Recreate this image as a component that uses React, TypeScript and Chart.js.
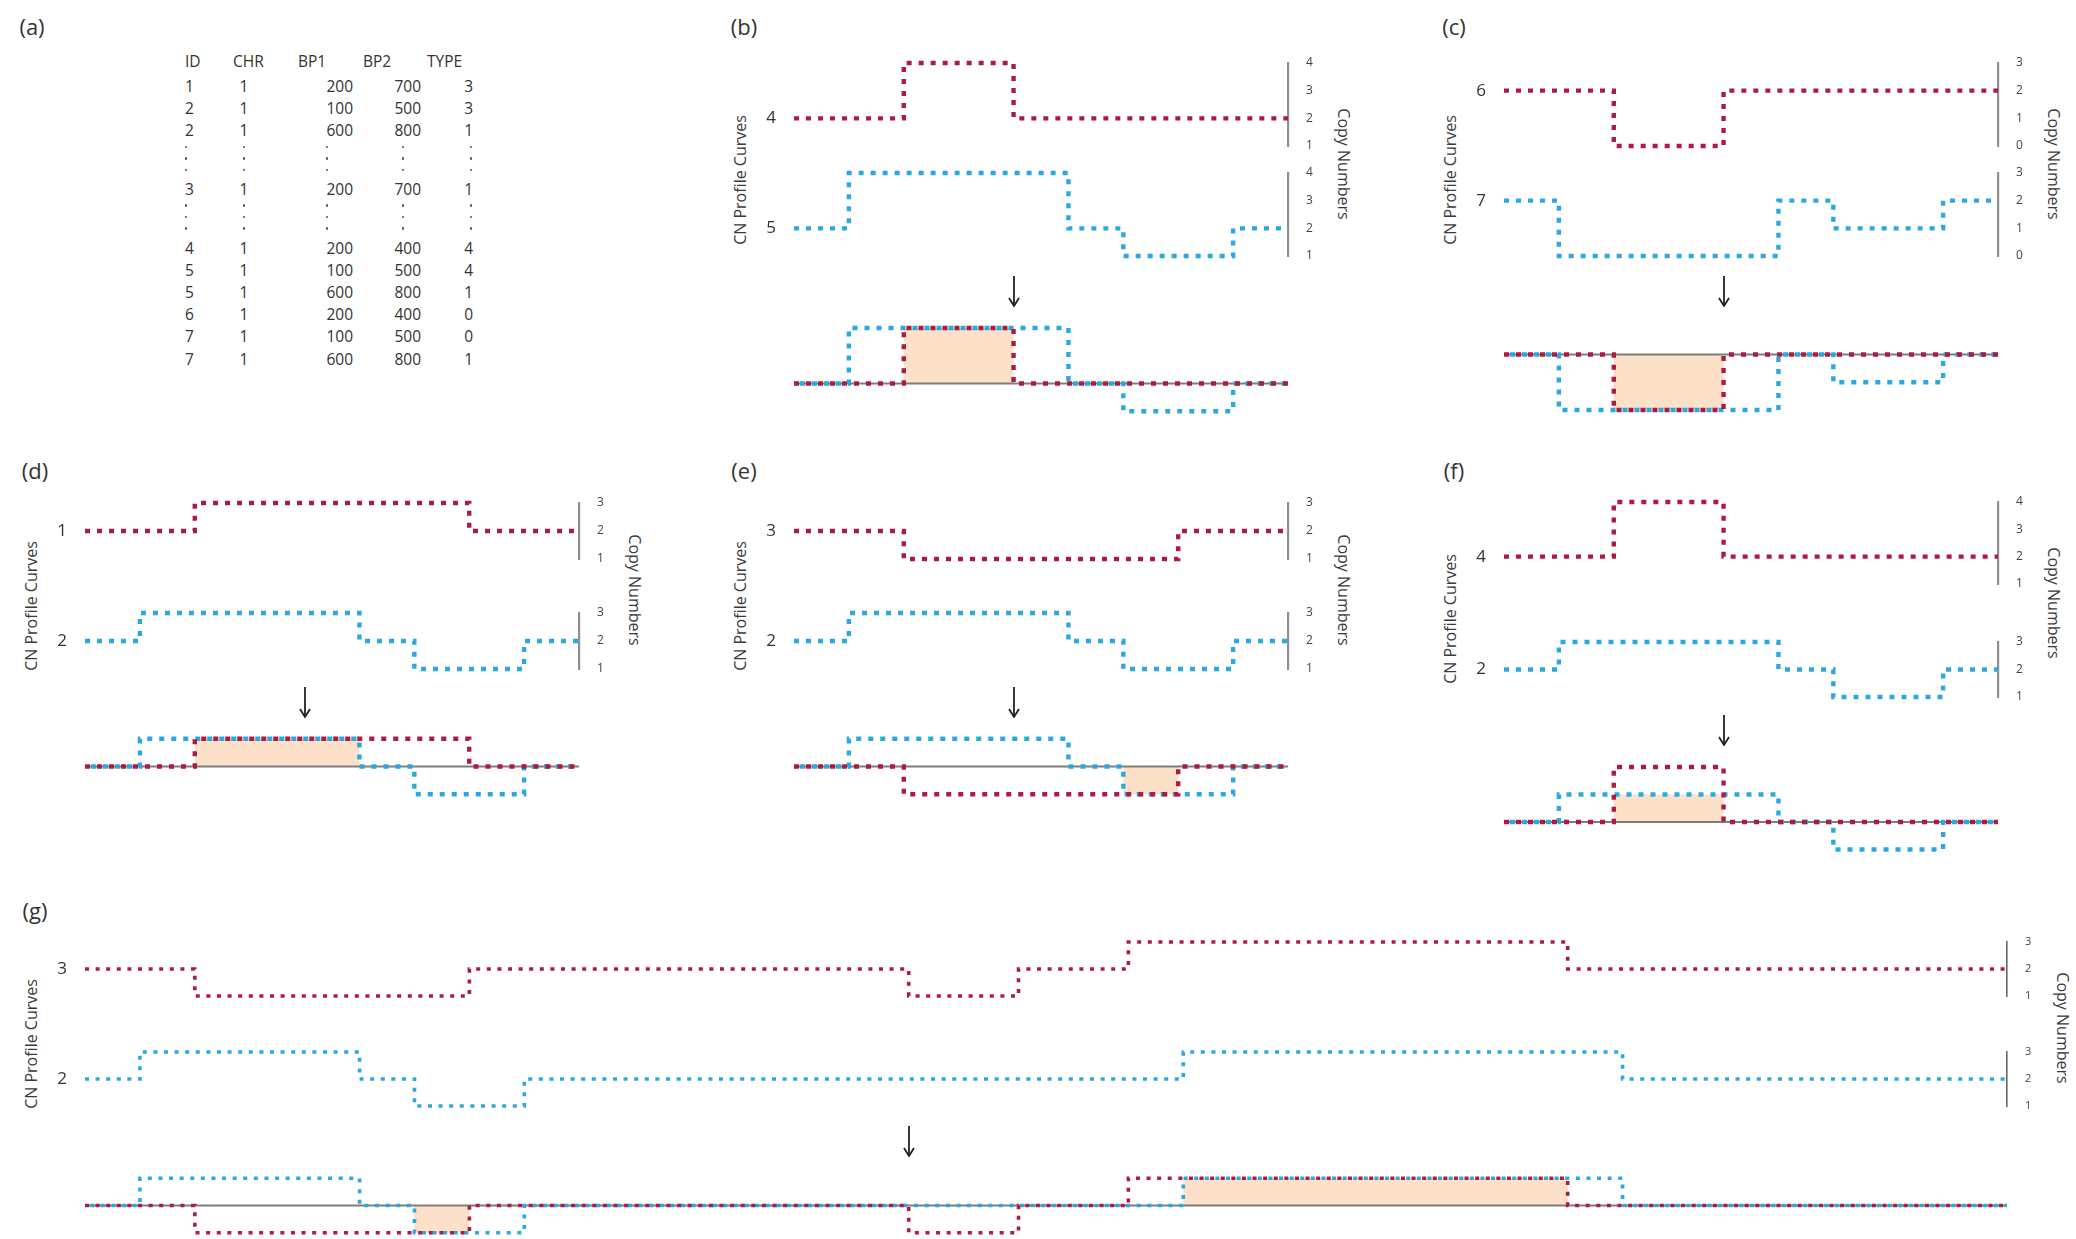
import React, { useEffect, useRef } from 'react';
import { Chart, registerables } from 'chart.js';

Chart.register(...registerables);

const FONT = '"Open Sans", "Noto Sans", "DejaVu Sans", sans-serif';
const RED = '#ad1a42';
const BLUE = '#2ca8e0';
const FILL = '#fce0c8';
const AXIS_GRAY = '#8f8f8f';
const TEXT = '#333333';

const NORMAL_CN = 2;
const GENOME_LEN = 900;
const G_GENOME_LEN = 3500;

// ---- table (a) ----
const tableHeader = ['ID', 'CHR', 'BP1', 'BP2', 'TYPE'];
const rowId = [1, 2, 2, 3, 4, 5, 5, 6, 7, 7];
const rowChr = [1, 1, 1, 1, 1, 1, 1, 1, 1, 1];
const rowBp1 = [200, 100, 600, 200, 200, 100, 600, 200, 100, 600];
const rowBp2 = [700, 500, 800, 700, 400, 500, 800, 400, 500, 800];
const rowType = [3, 3, 1, 1, 4, 4, 1, 0, 0, 1];
const ellipsisAfterRow = [2, 3];

// ---- panel pairs (b)-(f): [red ID, blue ID] ----
const pairB = [4, 5];
const pairC = [6, 7];
const pairD = [1, 2];
const pairE = [3, 2];
const pairF = [4, 2];

// ---- panel (g) profiles ----
const gRedId = 3;
const gRedBp1 = [200, 1500, 1900];
const gRedBp2 = [700, 1700, 2700];
const gRedType = [1, 1, 3];
const gBlueId = 2;
const gBlueBp1 = [100, 600, 2000];
const gBlueBp2 = [500, 800, 2800];
const gBlueType = [3, 1, 3];

type Seg = { bp1: number; bp2: number; type: number };

function segsForId(id: number): Seg[] {
  const out: Seg[] = [];
  for (let i = 0; i < rowId.length; i++) {
    if (rowId[i] === id) out.push({ bp1: rowBp1[i], bp2: rowBp2[i], type: rowType[i] });
  }
  return out;
}

function segsFrom(b1: number[], b2: number[], t: number[]): Seg[] {
  return b1.map((v, i) => ({ bp1: v, bp2: b2[i], type: t[i] }));
}

function valueAt(segs: Seg[], x: number): number {
  for (const s of segs) if (x >= s.bp1 && x < s.bp2) return s.type;
  return NORMAL_CN;
}

function breakpoints(segsList: Seg[][], len: number): number[] {
  const set = new Set<number>([0, len]);
  segsList.forEach((segs) => segs.forEach((s) => { set.add(s.bp1); set.add(s.bp2); }));
  return Array.from(set).sort((a, b) => a - b);
}

function profile(segs: Seg[], len: number, rel: boolean) {
  const xs = breakpoints([segs], len);
  const pts: { x: number; y: number }[] = [];
  for (let i = 0; i < xs.length - 1; i++) {
    const v = valueAt(segs, (xs[i] + xs[i + 1]) / 2);
    pts.push({ x: xs[i], y: rel ? v - NORMAL_CN : v });
  }
  pts.push({ x: len, y: pts[pts.length - 1].y });
  return pts;
}

function overlap(a: Seg[], b: Seg[], len: number) {
  const xs = breakpoints([a, b], len);
  const pts: { x: number; y: number }[] = [];
  for (let i = 0; i < xs.length - 1; i++) {
    const m = (xs[i] + xs[i + 1]) / 2;
    const va = valueAt(a, m) - NORMAL_CN;
    const vb = valueAt(b, m) - NORMAL_CN;
    const v = va * vb > 0 ? Math.sign(va) * Math.min(Math.abs(va), Math.abs(vb)) : 0;
    pts.push({ x: xs[i], y: v });
  }
  pts.push({ x: len, y: pts[pts.length - 1].y });
  return pts;
}

// ---- layout (pixels) ----
const LW = 34;
const RW = 44;
const PAD = 34;

type PanelLayout = {
  label: string; x0: number; x1: number; U: number; redY: number; blueY: number;
  baseY: number; arrowY: number; arrowAt: number; labelY: number; thin: boolean;
};

const layoutB: PanelLayout = { label: '(b)', x0: 794, x1: 1288, U: 27.8, redY: 119, blueY: 229, baseY: 384, arrowY: 291, arrowAt: 400, labelY: 26, thin: false };
const layoutC: PanelLayout = { label: '(c)', x0: 1504, x1: 1998, U: 27.8, redY: 91, blueY: 201, baseY: 355, arrowY: 291, arrowAt: 400, labelY: 26, thin: false };
const layoutD: PanelLayout = { label: '(d)', x0: 85, x1: 579, U: 27.8, redY: 531, blueY: 641, baseY: 767, arrowY: 702, arrowAt: 400, labelY: 470, thin: false };
const layoutE: PanelLayout = { label: '(e)', x0: 794, x1: 1288, U: 27.8, redY: 531, blueY: 641, baseY: 767, arrowY: 702, arrowAt: 400, labelY: 470, thin: false };
const layoutF: PanelLayout = { label: '(f)', x0: 1504, x1: 1998, U: 27.4, redY: 557, blueY: 669, baseY: 822, arrowY: 730, arrowAt: 400, labelY: 470, thin: false };
const layoutG: PanelLayout = { label: '(g)', x0: 85, x1: 2007, U: 27.2, redY: 969, blueY: 1079, baseY: 1205, arrowY: 1141, arrowAt: 1500, labelY: 910, thin: true };

type ChartSpec = {
  left: number; top: number; w: number; h: number; config: any;
};

function lineStyle(color: string, thin: boolean, offset: number) {
  return {
    borderColor: color,
    borderWidth: thin ? 3.6 : 4.4,
    borderDash: thin ? [4, 6.6] : [5, 7],
    borderDashOffset: offset,
    borderCapStyle: 'butt',
    stepped: true,
    pointRadius: 0,
    fill: false,
    clip: false,
  };
}

function profileSpec(segs: Seg[], id: number, color: string, len: number, L: PanelLayout, levelY: number): ChartSpec {
  const vals = segs.map((s) => s.type);
  const min = Math.min(1, ...vals);
  const max = Math.max(3, ...vals);
  const yTop = levelY - (max - NORMAL_CN) * L.U;
  const h = 2 * PAD + (max - min) * L.U;
  const w = LW + (L.x1 - L.x0) + RW;
  const config = {
    type: 'line',
    data: { datasets: [{ data: profile(segs, len, false), ...lineStyle(color, L.thin, 0) }] },
    options: {
      animation: false, responsive: false, maintainAspectRatio: false, events: [],
      layout: { padding: { top: PAD, bottom: PAD, left: 0, right: 0 } },
      plugins: { legend: { display: false }, tooltip: { enabled: false } },
      scales: {
        x: { type: 'linear', min: 0, max: len, display: false },
        y: {
          type: 'linear', min, max, position: 'right',
          grid: { display: false, drawTicks: false },
          border: { display: true, color: L.thin ? '#666' : AXIS_GRAY, width: L.thin ? 1.6 : 2.2 },
          ticks: { stepSize: 1, autoSkip: false, padding: 18, color: '#444', font: { family: FONT, size: L.thin ? 11 : 12 } },
          afterFit: (s: any) => { s.width = RW; },
        },
        yId: {
          type: 'linear', min, max, position: 'left',
          grid: { display: false, drawTicks: false },
          border: { display: false },
          afterBuildTicks: (s: any) => { s.ticks = [{ value: NORMAL_CN }]; },
          ticks: { callback: () => String(id), padding: 18, color: TEXT, font: { family: FONT, size: 17 } },
          afterFit: (s: any) => { s.width = LW; },
        },
      },
    },
  };
  return { left: L.x0 - LW, top: yTop - PAD, w, h, config };
}

function overlaySpec(red: Seg[], blue: Seg[], len: number, L: PanelLayout): ChartSpec {
  const min = -2;
  const max = 2;
  const yTop = L.baseY - max * L.U;
  const h = 2 * PAD + (max - min) * L.U;
  const w = LW + (L.x1 - L.x0) + RW;
  const config = {
    type: 'line',
    data: {
      datasets: [
        { data: profile(red, len, true), ...lineStyle(RED, L.thin, 0), order: 0 },
        { data: profile(blue, len, true), ...lineStyle(BLUE, L.thin, L.thin ? 5.3 : 6), order: 1 },
        { data: [{ x: 0, y: 0 }, { x: len, y: 0 }], borderColor: '#7d7d7d', borderWidth: 2, pointRadius: 0, fill: false, order: 2 },
        { data: overlap(red, blue, len), borderWidth: 0, borderColor: 'rgba(0,0,0,0)', backgroundColor: FILL, stepped: true, pointRadius: 0, fill: 'origin', order: 3 },
      ],
    },
    options: {
      animation: false, responsive: false, maintainAspectRatio: false, events: [],
      layout: { padding: { top: PAD, bottom: PAD, left: LW, right: RW } },
      plugins: { legend: { display: false }, tooltip: { enabled: false } },
      scales: {
        x: { type: 'linear', min: 0, max: len, display: false },
        y: { type: 'linear', min, max, display: false },
      },
    },
  };
  return { left: L.x0 - LW, top: yTop - PAD, w, h, config };
}

function ChartCanvas({ spec }: { spec: ChartSpec }) {
  const ref = useRef<HTMLCanvasElement>(null);
  useEffect(() => {
    const chart = new Chart(ref.current as HTMLCanvasElement, spec.config);
    return () => chart.destroy();
  }, []);
  return (
    <canvas
      ref={ref}
      width={Math.round(spec.w)}
      height={Math.round(spec.h)}
      style={{ position: 'absolute', left: spec.left, top: spec.top, width: Math.round(spec.w), height: Math.round(spec.h) }}
    />
  );
}

function Txt({ x, y, children, align = 'left', size = 15, family = FONT, color = TEXT }: any) {
  const tx = align === 'left' ? '0' : align === 'center' ? '-50%' : '-100%';
  return (
    <div
      style={{
        position: 'absolute', left: x, top: y, whiteSpace: 'nowrap', lineHeight: 1,
        fontSize: size, fontFamily: family, color,
        transform: `translate(${tx}, -50%)`,
      }}
    >
      {children}
    </div>
  );
}

function RotText({ x, y, children, deg, size }: any) {
  return (
    <div
      style={{
        position: 'absolute', left: x, top: y, whiteSpace: 'nowrap', lineHeight: 1,
        fontSize: size, fontFamily: FONT, color: '#3a3a3a',
        transform: `translate(-50%, -50%) rotate(${deg}deg)`,
      }}
    >
      {children}
    </div>
  );
}

function Arrow({ x, y }: { x: number; y: number }) {
  const h = 32;
  return (
    <svg width={16} height={h} style={{ position: 'absolute', left: x - 8, top: y - h / 2 }}>
      <line x1={8} y1={1} x2={8} y2={h - 2} stroke="#222" strokeWidth={1.8} />
      <polyline points={`3,${h - 9} 8,${h - 1} 13,${h - 9}`} fill="none" stroke="#222" strokeWidth={1.8} />
    </svg>
  );
}

function Panel({ L, red, blue, redId, blueId, len }: { L: PanelLayout; red: Seg[]; blue: Seg[]; redId: number; blueId: number; len: number }) {
  const top = profileSpec(red, redId, RED, len, L, L.redY);
  const mid = profileSpec(blue, blueId, BLUE, len, L, L.blueY);
  const ov = overlaySpec(red, blue, len, L);
  const redMax = Math.max(3, ...red.map((s) => s.type));
  const blueMin = Math.min(1, ...blue.map((s) => s.type));
  const axisTop = L.redY - (redMax - NORMAL_CN) * L.U;
  const axisBottom = L.blueY + (NORMAL_CN - blueMin) * L.U;
  const midY = (axisTop + axisBottom) / 2;
  const arrowX = L.x0 + (L.arrowAt / len) * (L.x1 - L.x0);
  return (
    <>
      <Txt x={L.x0 - 50} y={L.labelY} align="center" size={22}>{L.label}</Txt>
      <ChartCanvas spec={ov} />
      <ChartCanvas spec={mid} />
      <ChartCanvas spec={top} />
      <RotText x={L.x0 - 54} y={midY + 20} deg={-90} size={16}>CN Profile Curves</RotText>
      <RotText x={L.x1 + 56} y={midY + 4} deg={90} size={16}>Copy Numbers</RotText>
      <Arrow x={arrowX} y={L.arrowY} />
    </>
  );
}

function TableA() {
  const colX = [185, 244, 353, 421, 473];
  const colAlign = ['left', 'center', 'right', 'right', 'right'];
  const headX = [185, 233, 298, 363, 427];
  const dotX = [186, 244, 327, 403, 471];
  const items: any[] = [];
  tableHeader.forEach((h, i) => items.push(<Txt key={'h' + i} x={headX[i]} y={62} size={15.5}>{h}</Txt>));
  let y = 87;
  for (let r = 0; r < rowId.length; r++) {
    const cells = [rowId[r], rowChr[r], rowBp1[r], rowBp2[r], rowType[r]];
    cells.forEach((c, i) => items.push(
      <Txt key={`r${r}c${i}`} x={colX[i]} y={y} align={colAlign[i]} size={15.5}>{String(c)}</Txt>
    ));
    if (ellipsisAfterRow.includes(r)) {
      [15.6, 27, 38.6].forEach((dy, k) => dotX.forEach((dx, i) => items.push(
        <div key={`d${r}-${k}-${i}`} style={{ position: 'absolute', left: dx - 1.2, top: y + dy - 1.2, width: 2.4, height: 2.4, borderRadius: 1.2, background: '#555' }} />
      )));
      y += 58.6;
    } else {
      y += 22.2;
    }
  }
  return <>{items}</>;
}

export default function App() {
  return (
    <div style={{ position: 'absolute', left: 0, top: 0, width: 2076, height: 1239, background: '#fff', overflow: 'hidden', fontFamily: FONT }}>
      <Txt x={32} y={26} align="center" size={22}>(a)</Txt>
      <TableA />
      <Panel L={layoutB} red={segsForId(pairB[0])} blue={segsForId(pairB[1])} redId={pairB[0]} blueId={pairB[1]} len={GENOME_LEN} />
      <Panel L={layoutC} red={segsForId(pairC[0])} blue={segsForId(pairC[1])} redId={pairC[0]} blueId={pairC[1]} len={GENOME_LEN} />
      <Panel L={layoutD} red={segsForId(pairD[0])} blue={segsForId(pairD[1])} redId={pairD[0]} blueId={pairD[1]} len={GENOME_LEN} />
      <Panel L={layoutE} red={segsForId(pairE[0])} blue={segsForId(pairE[1])} redId={pairE[0]} blueId={pairE[1]} len={GENOME_LEN} />
      <Panel L={layoutF} red={segsForId(pairF[0])} blue={segsForId(pairF[1])} redId={pairF[0]} blueId={pairF[1]} len={GENOME_LEN} />
      <Panel L={layoutG} red={segsFrom(gRedBp1, gRedBp2, gRedType)} blue={segsFrom(gBlueBp1, gBlueBp2, gBlueType)} redId={gRedId} blueId={gBlueId} len={G_GENOME_LEN} />
    </div>
  );
}
